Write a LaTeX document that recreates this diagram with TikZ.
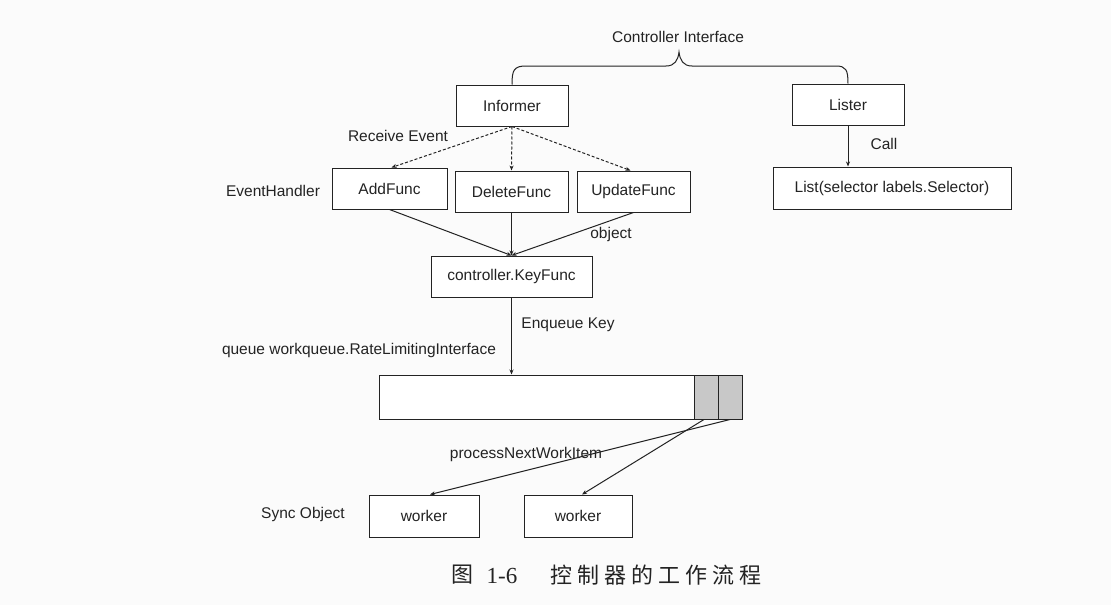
\documentclass[tikz,border=0pt]{standalone}
\usepackage{fontspec}
\setmainfont{Liberation Sans}
\newfontfamily\cjk{Noto Sans CJK SC}
\newfontfamily\capserif{Liberation Serif}
\usetikzlibrary{arrows.meta,calc}
\definecolor{bgc}{RGB}{251,251,251}
\definecolor{ink}{RGB}{35,35,35}
\definecolor{cellgray}{RGB}{200,200,200}
\begin{document}
\begin{tikzpicture}[x=1pt,y=-1pt,
  every node/.style={font=\fontsize{15.5}{18}\selectfont, text=ink},
  box/.style={draw=ink, line width=1pt, fill=white, inner sep=0pt},
  lbl/.style={inner sep=0pt},
  conn/.style={draw=ink, line width=1pt, -{Stealth[length=5pt,width=4pt]}},
  dconn/.style={conn, dash pattern=on 3pt off 2pt}]
\fill[bgc] (0,0) rectangle (1111,605);
\useasboundingbox (0,0) rectangle (1111,605);

% boxes
\node[box, minimum width=112pt, minimum height=41pt] (informer) at (512,105.5) {Informer};
\node[box, minimum width=112pt, minimum height=41pt] (lister) at (848,104.5) {Lister};
\node[box, minimum width=115pt, minimum height=41pt] (addf) at (389.5,188.5) {AddFunc};
\node[box, minimum width=113pt, minimum height=41pt] (delf) at (511.5,191.5) {DeleteFunc};
\node[box, minimum width=113pt, minimum height=41pt] (updf) at (633.5,191.5) {UpdateFunc};
\node[box, minimum width=161pt, minimum height=41pt] (keyf) at (511.5,276.5) {controller.KeyFunc};
\node[box, minimum width=238pt, minimum height=42pt] (listf) at (892,188) {List(selector labels.Selector)};
\node[box, minimum width=315pt, minimum height=44pt] (queue) at (536.5,397) {};
\node[box, fill=cellgray, minimum width=24pt, minimum height=44pt] (cella) at (706,397) {};
\node[box, fill=cellgray, minimum width=24pt, minimum height=44pt] (cellb) at (730,397) {};
\node[box, minimum width=110pt, minimum height=42pt] (worker1) at (424,516) {worker};
\node[box, minimum width=108pt, minimum height=42pt] (worker2) at (578,516) {worker};

% labels
\node[lbl] (ctrlif) at (678,37) {Controller Interface};
\node[lbl] (recv) at (398,136) {Receive Event};
\node[lbl] (evh) at (273,191) {EventHandler};
\node[lbl] (obj) at (611,234) {object};
\node[lbl] (call) at (884,144) {Call};
\node[lbl] (enq) at (568,325) {Enqueue Key};
\node[lbl] (qlbl) at (359,350) {queue workqueue.RateLimitingInterface};
\node[lbl] (pnwi) at (526,454) {processNextWorkItem};
\node[lbl] (sync) at (303,514) {Sync Object};

% brace
\coordinate (bl) at (informer.north);
\coordinate (br) at (lister.north);
\coordinate (btip) at (679,52);
\draw[ink, line width=1pt]
  (bl) .. controls (512,70) and (514,66) .. (526,66)
  -- (666,66) .. controls (675,66) and (678,60) .. (btip)
  .. controls (680,60) and (683,66) .. (692,66)
  -- (836,66) .. controls (846,66) and (848,70) .. (br);

% connectors
\draw[dconn] (informer.south) -- ([xshift=2pt]addf.north);
\draw[dconn] (informer.south) -- (delf.north);
\draw[dconn] (informer.south) -- ([xshift=-3pt]updf.north);
\draw[conn] (addf.south) -- (keyf.north);
\draw[conn] (delf.south) -- (keyf.north);
\draw[conn] (updf.south) -- (keyf.north);
\draw[conn] (keyf.south) -- (keyf.south |- queue.north);
\draw[conn] (lister.south) -- (lister.south |- listf.north);
\draw[conn] ([xshift=-2pt]cella.south) -- ([xshift=4pt]worker2.north);
\draw[conn] (cellb.south) -- ([xshift=6pt]worker1.north);

% caption
\node[lbl, font=\cjk\fontsize{22}{26}\selectfont] (capa) at (462,575) {图};
\node[lbl, font=\capserif\fontsize{23}{26}\selectfont] (capb) at (502,576) {1-6};
\node[lbl, anchor=west, font=\cjk\fontsize{22}{26}\selectfont\addfontfeature{LetterSpace=23}] (capc) at (550,575) {控制器的工作流程};
\end{tikzpicture}
\end{document}
